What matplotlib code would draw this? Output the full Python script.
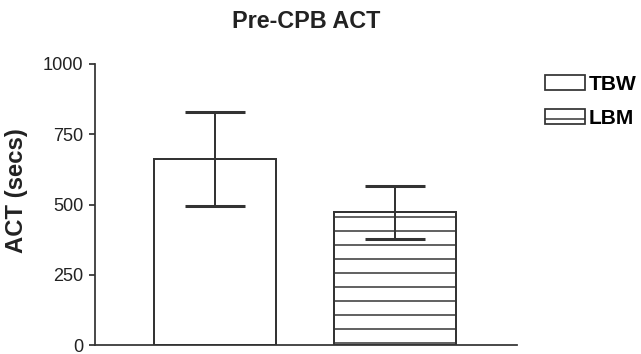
import numpy as np
import matplotlib
matplotlib.use("Agg")
import matplotlib.pyplot as plt
from matplotlib.patches import Patch

groups = ["TBW", "LBM"]
means = [662, 472]
sds = [167, 93]
hatches = ["", "-"]

DPI = 84
plt.rcParams['font.family'] = ['Liberation Sans', 'DejaVu Sans']
plt.rcParams['hatch.linewidth'] = 1.3
plt.rcParams['hatch.color'] = '#333333'

fig = plt.figure(figsize=(641 / DPI, 354 / DPI), dpi=DPI)
ax = fig.add_axes([95 / 641, 1 - 345 / 354, 422 / 641, 281 / 354])

x = np.arange(len(groups))
edge = '#333333'
for xi, m, h in zip(x, means, hatches):
    ax.bar(xi, m, width=0.678, color='white', edgecolor=edge, linewidth=1.7,
           hatch=h, zorder=2)
ax.errorbar(x, means, yerr=sds, fmt='none', ecolor=edge, elinewidth=1.7,
            capsize=26, capthick=2.6, zorder=3)

ax.set_xlim(-0.667, 1.678)
ax.set_ylim(0, 1000)
ax.set_yticks([0, 250, 500, 750, 1000])
ax.set_xticks([])
for s in ['top', 'right']:
    ax.spines[s].set_visible(False)
for s in ['left', 'bottom']:
    ax.spines[s].set_linewidth(1.5)
    ax.spines[s].set_color(edge)
ax.tick_params(axis='y', direction='out', length=5, width=1.5, color=edge,
               labelsize=15.5, pad=5, labelcolor='#222222')

ax.set_ylabel("ACT (secs)", fontsize=20.5, fontweight='bold', color='#222222')
ax.yaxis.set_label_coords(-0.159, 0.55)

fig.text(306 / 641, 1 - 22 / 354, "Pre-CPB ACT", ha='center', va='center',
         fontsize=20, fontweight='bold', color='#222222')

handles = [Patch(facecolor='white', edgecolor=edge, linewidth=1.5, hatch=h)
           for h in hatches]
fig.legend(handles, groups, loc='upper left',
           bbox_to_anchor=(545 / 641, 1 - 75 / 354), frameon=False,
           borderpad=0, borderaxespad=0, handlelength=1.9, handleheight=0.7,
           handletextpad=0.2, labelspacing=0.7,
           prop={'size': 18, 'weight': 'bold'})

fig.savefig("out.png", dpi=DPI)
